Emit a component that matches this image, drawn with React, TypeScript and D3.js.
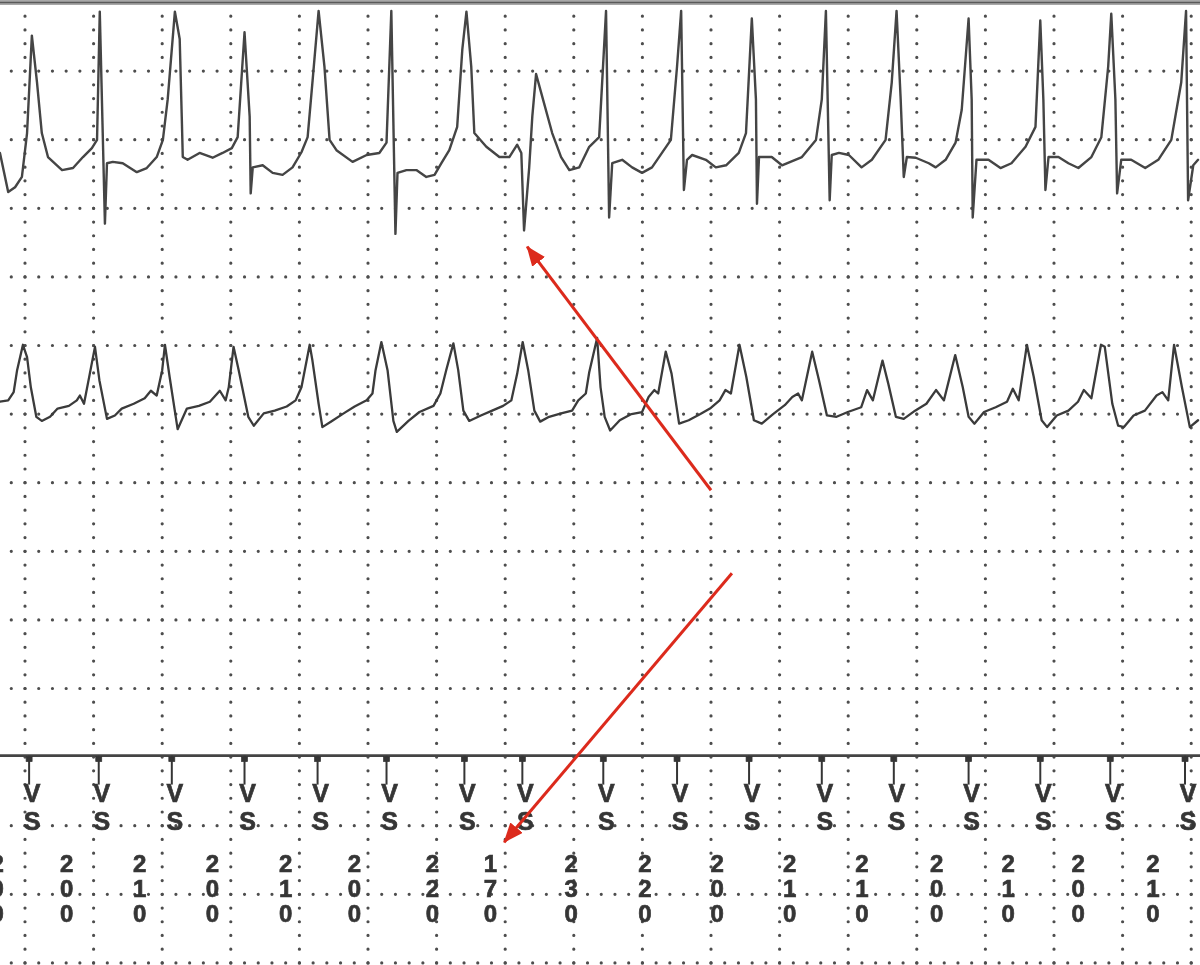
import * as d3 from 'd3';

// top channel EGM: [time ms, amplitude]
const topEgm: [number, number][] = [
  [-73, 0.03], [-49, -0.54], [-29, -0.47], [-9, -0.32], [6, 0.32], [20, 1.74], [35, 1.06], [49, 0.32], [67, -0.03],
  [108, -0.22], [140, -0.19], [169, -0.03], [195, 0.1], [210, 0.22], [218, 2.09], [233, -1.0], [239, -0.12], [256, -0.1],
  [285, -0.12], [326, -0.25], [355, -0.19], [384, -0.03], [402, 0.22], [416, 0.81], [437, 2.09], [451, 1.69], [457, 0.56],
  [460, -0.03], [474, -0.07], [509, 0.03], [547, -0.04], [576, 0.03], [603, 0.1], [620, 0.26], [640, 1.79], [655, 0.56],
  [658, -0.56], [664, -0.18], [693, -0.15], [722, -0.26], [751, -0.29], [780, -0.18], [806, 0.04], [824, 0.26], [838, 1.06],
  [856, 2.1], [873, 1.29], [888, 0.22], [908, 0.07], [955, -0.1], [996, 0], [1033, 0.03], [1054, 0.18], [1068, 2.1],
  [1080, -1.15], [1086, -0.26], [1112, -0.22], [1141, -0.22], [1170, -0.32], [1194, -0.29], [1214, -0.12], [1237, 0.07],
  [1260, 0.41], [1275, 1.54], [1287, 2.09], [1301, 1.29], [1310, 0.32], [1345, 0.12], [1383, -0.03], [1412, -0.03],
  [1435, 0.15], [1447, 0.03], [1455, -1.1], [1470, -0.18], [1479, 0.56], [1490, 1.18], [1508, 0.85], [1537, 0.32],
  [1563, -0.03], [1587, -0.22], [1616, -0.18], [1645, 0.12], [1674, 0.26], [1694, 2.1], [1703, -0.91], [1712, -0.12],
  [1741, -0.07], [1770, -0.18], [1799, -0.26], [1828, -0.18], [1857, 0.03], [1883, 0.22], [1901, 1.29], [1913, 2.1],
  [1921, -0.51], [1930, -0.07], [1945, 0], [1985, -0.07], [2014, -0.18], [2044, -0.15], [2081, 0.03], [2102, 0.32],
  [2119, 1.99], [2131, 0.81], [2134, -0.71], [2140, -0.03], [2177, -0.03], [2207, -0.15], [2265, -0.03], [2306, 0.22],
  [2323, 0.81], [2335, 2.1], [2346, -0.66], [2352, 0], [2373, 0.03], [2402, 0], [2439, -0.18], [2469, -0.07], [2509, 0.22],
  [2527, 1.06], [2541, 2.1], [2553, 0.81], [2562, -0.32], [2571, -0.03], [2597, -0.04], [2635, -0.12], [2655, -0.18],
  [2684, -0.07], [2713, 0.18], [2731, 0.66], [2751, 1.99], [2760, 0.81], [2763, -0.91], [2774, -0.07], [2809, -0.07],
  [2844, -0.19], [2876, -0.12], [2917, 0.12], [2946, 0.41], [2960, 1.96], [2969, 0.81], [2975, -0.51], [2984, -0.03],
  [3013, -0.03], [3042, -0.12], [3071, -0.19], [3109, -0.03], [3138, 0.26], [3158, 1.29], [3167, 2.06], [3179, 0.81],
  [3184, -0.56], [3196, -0.07], [3225, -0.07], [3266, -0.19], [3304, -0.07], [3342, 0.22], [3371, 1.06], [3385, 2.1],
  [3391, -0.66], [3406, -0.15], [3420, -0.07],
];

// second channel EGM: [time ms, amplitude]
const midEgm: [number, number][] = [
  [-73, 0.16], [-49, 0.18], [-33, 0.3], [-23, 0.62], [-6, 0.99], [6, 0.81], [17, 0.37], [33, -0.06], [49, -0.12], [73, -0.06],
  [95, 0.06], [128, 0.1], [151, 0.18], [160, 0.25], [172, 0.13], [189, 0.57], [204, 0.96], [217, 0.47], [239, -0.09],
  [262, -0.04], [282, 0.06], [317, 0.13], [349, 0.21], [367, 0.32], [384, 0.25], [400, 0.62], [408, 0.99], [422, 0.51],
  [445, -0.24], [472, 0.06], [507, 0.1], [539, 0.16], [568, 0.32], [585, 0.18], [594, 0.37], [608, 0.96], [623, 0.62],
  [651, -0.06], [667, -0.19], [696, -0.01], [728, 0.03], [763, 0.09], [789, 0.18], [806, 0.37], [830, 0.99], [838, 0.76],
  [856, 0.13], [867, -0.21], [895, -0.12], [929, -0.01], [961, 0.09], [996, 0.18], [1013, 0.28], [1022, 0.62], [1039, 1.03],
  [1057, 0.62], [1074, -0.12], [1084, -0.28], [1118, -0.12], [1150, 0.01], [1191, 0.1], [1211, 0.28], [1228, 0.62],
  [1249, 1.01], [1263, 0.62], [1278, 0.03], [1295, -0.12], [1329, -0.04], [1362, 0.03], [1394, 0.1], [1418, 0.18],
  [1435, 0.57], [1451, 1.03], [1467, 0.62], [1485, 0.03], [1502, -0.13], [1528, -0.06], [1563, -0.01], [1595, 0.03],
  [1613, 0.18], [1635, 0.28], [1645, 0.59], [1668, 1.09], [1678, 0.37], [1690, -0.06], [1706, -0.26], [1734, -0.11],
  [1768, -0.02], [1799, 0.01], [1818, 0.23], [1835, 0.33], [1846, 0.28], [1868, 0.89], [1885, 0.57], [1907, -0.16],
  [1935, -0.11], [1969, -0.02], [1997, 0.06], [2025, 0.18], [2042, 0.33], [2058, 0.28], [2083, 0.99], [2103, 0.52],
  [2125, -0.11], [2148, -0.16], [2181, -0.02], [2215, 0.11], [2237, 0.23], [2254, 0.28], [2265, 0.18], [2295, 0.89],
  [2315, 0.47], [2338, -0.04], [2366, -0.06], [2399, 0.01], [2438, 0.08], [2455, 0.33], [2472, 0.18], [2500, 0.76],
  [2517, 0.42], [2539, -0.06], [2562, -0.09], [2595, 0.03], [2628, 0.13], [2656, 0.33], [2679, 0.18], [2712, 0.84],
  [2734, 0.37], [2751, -0.06], [2768, -0.16], [2796, 0.01], [2830, 0.08], [2863, 0.16], [2880, 0.35], [2897, 0.18],
  [2921, 0.99], [2941, 0.52], [2964, -0.11], [2980, -0.21], [3008, -0.04], [3042, 0.03], [3070, 0.16], [3087, 0.33],
  [3109, 0.21], [3137, 0.99], [3148, 0.96], [3170, 0.13], [3187, -0.19], [3204, -0.21], [3232, -0.04], [3265, 0.03],
  [3299, 0.25], [3316, 0.3], [3333, 0.18], [3350, 0.99], [3373, 0.37], [3396, -0.21], [3420, -0.11],
];

// ventricular sense markers (ms) and the V-V interval printed under each one
const vsTimes = [12, 215, 428, 640, 853, 1054, 1281, 1450, 1686, 1901, 2111, 2323, 2533, 2751, 2960, 3164, 3382];
const vsIntervals = ['200', '200', '210', '200', '210', '200', '220', '170', '230', '220', '200', '210', '210', '200', '210', '200', '210'];
const markerLetters = ['V', 'S'];

// grid: a line every 200 ms, rows in grid units from the top edge
const gridTimes = d3.range(-200, 3600, 200);
const gridRows = [1, 2, 3, 4, 5, 6, 7, 8, 9, 10, 12, 13, 14];
const separatorRow = 11;

// red annotation arrows: [time ms, grid row]
const arrows: { from: [number, number]; to: [number, number] }[] = [
  { from: [2000, 7.11], to: [1464, 3.56] },
  { from: [2061, 8.32], to: [1397, 12.24] },
];

const W = 1200;
const H = 965;
const CELL = 68.6;
const DOT = CELL / 5;

export default function App() {
  const x = d3.scaleLinear().domain([0, 200]).range([25, 25 + CELL]);
  const yGrid = d3.scaleLinear().domain([0, 1]).range([2.5, 2.5 + CELL]);
  const yTop = d3.scaleLinear().domain([0, 1]).range([155, 155 - CELL]);
  const yMid = d3.scaleLinear().domain([0, 1]).range([412.7, 412.7 - CELL]);

  const topLine = d3.line<[number, number]>().x(d => x(d[0])).y(d => yTop(d[1]));
  const midLine = d3.line<[number, number]>().x(d => x(d[0])).y(d => yMid(d[1]));

  const sepY = yGrid(separatorRow) - 1.5;
  const dash = `0.01 ${DOT - 0.01}`;
  const font = '"Liberation Sans", Arial, sans-serif';
  const ink = '#363636';
  const red = '#dc2a1c';

  return (
    <svg
      width={W}
      height={H}
      style={{ position: 'absolute', left: 0, top: 0, background: '#fff' }}
    >
      <defs>
        <filter id="soft" x="-5%" y="-5%" width="110%" height="110%">
          <feGaussianBlur stdDeviation="0.55" />
        </filter>
        <marker id="head" viewBox="0 0 20 16" markerWidth="20" markerHeight="16"
          refX="19" refY="8" orient="auto" markerUnits="userSpaceOnUse">
          <path d="M0,0 L20,8 L0,16 Z" fill={red} />
        </marker>
      </defs>

      {/* dotted grid, round dots every fifth of a cell */}
      <g stroke="#4e4e4e" strokeWidth={3.2} strokeLinecap="round" filter="url(#soft)">
        {gridTimes.map(t => (
          <line key={`v${t}`} x1={x(t)} x2={x(t)} y1={yGrid(0)} y2={H}
            strokeDasharray={dash} />
        ))}
        {gridRows.map(r => (
          <line key={`h${r}`} y1={yGrid(r)} y2={yGrid(r)}
            x1={x(-200)} x2={W} strokeDasharray={dash} />
        ))}
      </g>

      {/* frame: top border and channel/marker separator */}
      <rect x={0} y={0} width={W} height={5} fill="#a8a8a8" />
      <line x1={0} x2={W} y1={2.5} y2={2.5} stroke="#5a5a5a" strokeWidth={1.6} />
      <line x1={0} x2={W} y1={sepY} y2={sepY} stroke="#444" strokeWidth={2.6} />

      {/* EGM traces */}
      <g fill="none" strokeLinejoin="round" strokeLinecap="round" filter="url(#soft)">
        <path d={topLine(topEgm) ?? ''} stroke="#444" strokeWidth={2.4} />
        <path d={midLine(midEgm) ?? ''} stroke="#3a3a3a" strokeWidth={2.3} />
      </g>

      {/* VS markers and intervals */}
      <g fill={ink} stroke={ink} strokeWidth={0.7} fontFamily={font} fontWeight="bold" filter="url(#soft)">
        {vsTimes.map((t, i) => {
          const cx = x(t);
          const lx = cx - 32;
          const digits = vsIntervals[i].split('');
          return (
            <g key={`m${i}`}>
              <rect x={cx - 3} y={sepY + 1} width={6} height={5} fill={ink} />
              <line x1={cx} x2={cx} y1={sepY} y2={sepY + 29} stroke={ink} strokeWidth={2} />
              {markerLetters.map((ch, j) => (
                <text key={ch} x={cx + 3} y={802 + j * 28} fontSize={25} textAnchor="middle">{ch}</text>
              ))}
              {digits.map((d, j) => (
                <text key={j} x={lx} y={872 + j * 25} fontSize={24} textAnchor="middle">{d}</text>
              ))}
            </g>
          );
        })}
      </g>

      {/* annotation arrows */}
      <g stroke={red} strokeWidth={3}>
        {arrows.map((a, i) => (
          <line key={i} x1={x(a.from[0])} y1={yGrid(a.from[1])} x2={x(a.to[0])} y2={yGrid(a.to[1])}
            markerEnd="url(#head)" />
        ))}
      </g>
    </svg>
  );
}
